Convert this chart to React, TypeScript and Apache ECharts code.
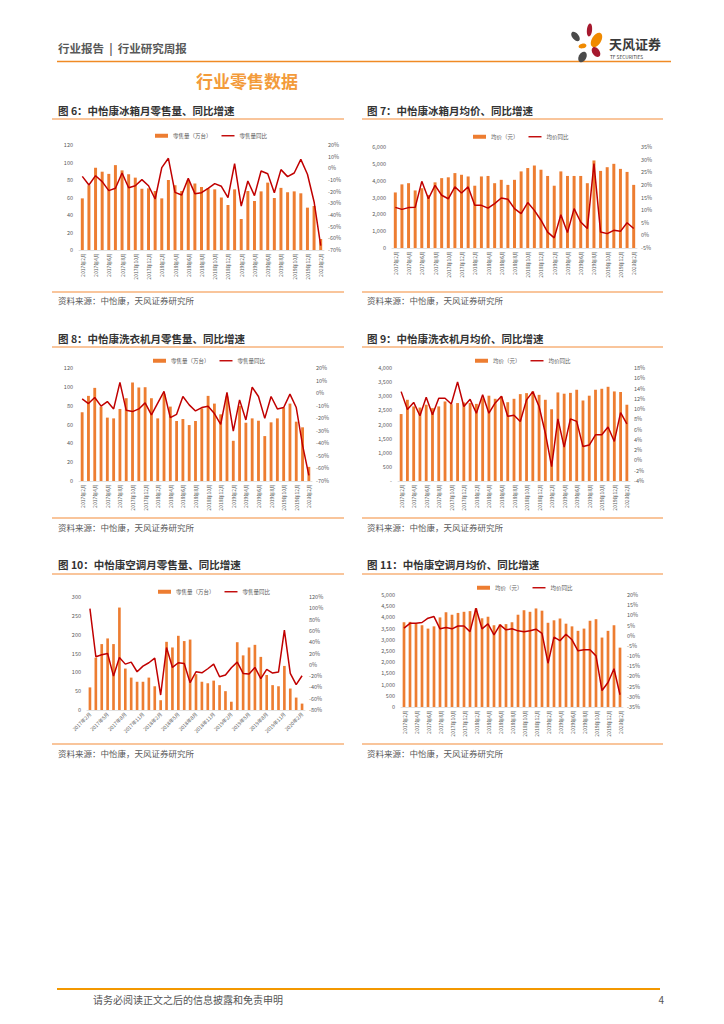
import React, { useEffect, useRef } from "react";
import * as echarts from "echarts";

const months = [
  "2017年2月", "2017年3月", "2017年4月", "2017年5月", "2017年6月", "2017年7月", "2017年8月", "2017年9月", "2017年10月", "2017年11月", "2017年12月",
  "2018年1月", "2018年2月", "2018年3月", "2018年4月", "2018年5月", "2018年6月", "2018年7月", "2018年8月", "2018年9月", "2018年10月", "2018年11月", "2018年12月",
  "2019年1月", "2019年2月", "2019年3月", "2019年4月", "2019年5月", "2019年6月", "2019年7月", "2019年8月", "2019年9月", "2019年10月", "2019年11月", "2019年12月",
  "2020年1月", "2020年2月",
];

const fridgeVol = [59, 74, 94, 89.5, 87, 97, 91, 86.5, 82.7, 70, 70.5, 67.4, 59, 80, 74, 67.4, 80, 76, 72, 70.5, 69.3, 60, 51.4, 69.3, 35.4, 67.4, 56, 67, 77, 59.4, 71, 66, 67, 64.8, 48.4, 50.3, 12.6];
const fridgeVolYoy = [-6.9, -14.3, -6.3, -11.4, -19.1, -17.1, -4, -16.6, -14.9, -9.7, -14.9, -26.3, 0.6, 8.6, -20.6, -22.9, -8.6, -21.7, -20.9, -17.1, -13.1, -15.4, -25.1, 4, -32.3, -10.9, -23.4, -2.3, -4.6, -20.9, -1.1, -7.1, -4, 7.7, -5.1, -28.6, -66.3];

const fridgePrice = [3300, 3780, 3850, 3420, 3550, 3150, 3900, 4150, 4200, 4450, 4350, 4250, 3700, 4250, 4280, 3850, 4050, 3750, 4050, 4550, 4750, 4900, 4650, 4280, 3700, 4550, 4280, 4280, 4280, 3850, 5200, 4580, 4800, 5000, 4700, 4520, 3750];
const fridgePriceYoy = [11.1, 10.3, 11.0, 11.1, 21.4, 14.5, 19.8, 15.9, 14.5, 19.2, 16.8, 19.2, 11.9, 11.9, 10.8, 12.6, 14.8, 14.3, 10.6, 8.6, 13.0, 9.9, 6.0, 1.3, -1.0, 8.2, 1.1, 10.6, 5.3, 2.7, 28.4, 1.3, 0.7, 2.0, 1.6, 5.0, 2.7];

const washVol = [73, 90.4, 98.9, 79, 67.3, 66.5, 76.5, 87.9, 104.6, 99.3, 99.6, 87.9, 66.5, 92.2, 79, 63.7, 65.8, 59.4, 63.7, 77.2, 90.4, 82.2, 70.8, 89.7, 42.7, 79.7, 61.9, 66.5, 64, 47.7, 62.3, 66.5, 78, 82.2, 63, 57, 15];
const washVolYoy = [-4.6, -8.3, -3.5, -10.4, -6.7, -12.6, 8.5, -13.7, -14.7, -12.6, -7.8, -17.4, -8.0, 1.3, -19.5, -16.9, -2.7, -9.4, -14.2, -11.5, -10.4, -16.3, -24.9, 0.5, -30.2, -5.4, -21.4, 4.8, -2.7, -20.1, -2.7, -12.6, -11.5, -0.8, -11.5, -41.4, -65.5];

const washPrice = [2370, 2875, 2640, 2600, 2700, 2580, 2640, 2815, 2720, 2760, 2780, 2760, 2730, 2930, 3020, 2910, 2990, 2790, 2910, 3075, 3110, 3170, 3050, 2875, 2540, 3135, 3090, 3120, 3230, 2850, 3020, 3230, 3265, 3335, 3170, 3150, 2700];
const washPriceYoy = [13.4, 9.9, 11.3, 8.7, 12.3, 8.9, 12.1, 12.1, 11.0, 15.3, 10.5, 11.9, 9.2, 12.8, 9.2, 11.2, 12.5, 8.6, 8.8, 7.6, 11.8, 13.4, 10.5, 5.3, -1.2, 8.1, 2.6, 8.1, 7.6, 2.7, 3.0, 5.0, 5.0, 6.5, 3.7, 9.3, 7.1];

const acVol = [60, 139, 175, 190, 175, 272, 110, 86, 75, 75, 86, 63, 26, 181, 166, 197, 183, 187, 95, 75, 71, 78, 66, 50, 22, 180, 145, 166, 173, 141, 93, 66, 63, 117, 57, 33, 17];
const acVolYoy = [99.4, 14.2, 17.7, 20, -20, 13, 1.2, 4.8, -12.3, -2.3, 3.6, 11.8, -53.5, 30.6, -4.7, 3.6, 2.4, -31.7, -12.3, -14.1, -7, 1.2, -21.1, -18.2, -5.2, 4.8, -15.2, -16.4, -4.7, -24.6, -8.2, -14.7, -12.9, 61.2, -15.2, -35.2, -19.4];

const acPrice = [3784, 3800, 3720, 3650, 3500, 3600, 4000, 4230, 4120, 4200, 4250, 4280, 4400, 3960, 4030, 3650, 3690, 3700, 3780, 4120, 4320, 4250, 4400, 4300, 3760, 3870, 3950, 3720, 3600, 3400, 3500, 3850, 3920, 3100, 3400, 3650, 2650];
const acPriceYoy = [3.7, 6.1, 6.1, 6.5, 8.6, 9.4, 3.4, 4.0, 3.4, 4.8, 4.8, 2.0, 13.5, 3.4, 5.8, 0.4, 5.3, 2.9, 3.4, 2.4, 2.0, 2.4, 3.2, 1.2, -13.5, -0.7, -2.4, 0.7, -2.0, -7.4, -6.9, -6.9, -9.9, -26.9, -23.0, -16.2, -29.0];

const volName = "零售量（万台）";
const volYoyName = "零售量同比";
const priceName = "均价（元）";
const priceYoyName = "均价同比";

const panelTitles = [
  "图 6：中怡康冰箱月零售量、同比增速",
  "图 7：中怡康冰箱月均价、同比增速",
  "图 8：中怡康洗衣机月零售量、同比增速",
  "图 9：中怡康洗衣机月均价、同比增速",
  "图 10：中怡康空调月零售量、同比增速",
  "图 11：中怡康空调月均价、同比增速",
];
const sourceText = "资料来源：中怡康，天风证券研究所";

const BAR = "#ED7D31";
const LINE = "#C00000";
const AXIS_TXT = "#595959";
const FONT = "'Noto Sans CJK SC', 'Noto Sans', sans-serif";

const fmtThousand = (v: number) => v.toLocaleString("en-US");

const panels = [
  {
    grid: { left: 79, top: 145, width: 245, height: 105 },
    legend: { left: 150, top: 128 },
    names: [volName, volYoyName], bars: fridgeVol, line: fridgeVolYoy,
    lAxis: { min: 0, max: 120, interval: 20, fmt: (v: number) => String(v) },
    rAxis: { min: -70, max: 20, interval: 10 },
    rotate: 90, labelInterval: 1,
  },
  {
    grid: { left: 392, top: 147, width: 245, height: 101 },
    legend: { left: 468, top: 129 },
    names: [priceName, priceYoyName], bars: fridgePrice, line: fridgePriceYoy,
    lAxis: { min: 0, max: 6000, interval: 1000, fmt: fmtThousand },
    rAxis: { min: -5, max: 35, interval: 5 },
    rotate: 90, labelInterval: 1,
  },
  {
    grid: { left: 79, top: 368, width: 233, height: 113 },
    legend: { left: 148, top: 353 },
    names: [volName, volYoyName], bars: washVol, line: washVolYoy,
    lAxis: { min: 0, max: 120, interval: 20, fmt: (v: number) => String(v) },
    rAxis: { min: -70, max: 20, interval: 10 },
    rotate: 90, labelInterval: 1,
  },
  {
    grid: { left: 398, top: 368, width: 232, height: 113 },
    legend: { left: 470, top: 353 },
    names: [priceName, priceYoyName], bars: washPrice, line: washPriceYoy,
    lAxis: { min: 0, max: 4000, interval: 500, fmt: (v: number) => (v === 0 ? "-" : fmtThousand(v)) },
    rAxis: { min: -4, max: 18, interval: 2 },
    rotate: 90, labelInterval: 1,
  },
  {
    grid: { left: 87, top: 597, width: 218, height: 113 },
    legend: { left: 153, top: 584 },
    names: [volName, volYoyName], bars: acVol, line: acVolYoy,
    lAxis: { min: 0, max: 300, interval: 50, fmt: (v: number) => String(v) },
    rAxis: { min: -80, max: 120, interval: 20 },
    rotate: 45, labelInterval: 2,
  },
  {
    grid: { left: 401, top: 595, width: 222, height: 112 },
    legend: { left: 472, top: 580 },
    names: [priceName, priceYoyName], bars: acPrice, line: acPriceYoy,
    lAxis: { min: 0, max: 5000, interval: 500, fmt: fmtThousand },
    rAxis: { min: -35, max: 20, interval: 5 },
    rotate: 90, labelInterval: 1,
  },
];

// panel frame positions: [titleX, titleY, topLineY, bottomLineY, sourceY, lineX1, lineX2]
const frames = [
  [58, 110, 119, 292, 300, 52, 344],
  [367, 110, 119, 292, 300, 362, 663],
  [58, 338, 347, 518, 527, 52, 344],
  [367, 338, 347, 518, 527, 362, 663],
  [58, 564, 574, 744, 753, 52, 344],
  [367, 564, 574, 744, 753, 362, 663],
];

function buildOption() {
  const grid: any[] = [];
  const xAxis: any[] = [];
  const yAxis: any[] = [];
  const series: any[] = [];
  const legend: any[] = [];

  panels.forEach((p, i) => {
    grid.push({ ...p.grid, containLabel: false });
    xAxis.push({
      type: "category",
      gridIndex: i,
      data: months,
      boundaryGap: true,
      axisLine: { show: true, lineStyle: { color: "#D9D9D9", width: 0.8 } },
      axisTick: { show: false },
      axisLabel: {
        interval: p.labelInterval,
        rotate: p.rotate,
        fontSize: 5,
        color: AXIS_TXT,
        margin: 3,
        fontFamily: FONT,
      },
    });
    yAxis.push({
      type: "value",
      gridIndex: i,
      position: "left",
      min: p.lAxis.min,
      max: p.lAxis.max,
      interval: p.lAxis.interval,
      splitLine: { show: false },
      axisLine: { show: false },
      axisTick: { show: false },
      axisLabel: { fontSize: 5.5, color: AXIS_TXT, margin: 6, formatter: p.lAxis.fmt, fontFamily: FONT },
    });
    yAxis.push({
      type: "value",
      gridIndex: i,
      position: "right",
      min: p.rAxis.min,
      max: p.rAxis.max,
      interval: p.rAxis.interval,
      splitLine: { show: false },
      axisLine: { show: false },
      axisTick: { show: false },
      axisLabel: { fontSize: 5.5, color: AXIS_TXT, margin: 4, formatter: (v: number) => `${v}%`, fontFamily: FONT },
    });
    series.push({
      type: "bar",
      name: p.names[0],
      xAxisIndex: i,
      yAxisIndex: i * 2,
      data: p.bars,
      barWidth: "45%",
      itemStyle: { color: BAR },
    });
    series.push({
      type: "line",
      name: p.names[1],
      xAxisIndex: i,
      yAxisIndex: i * 2 + 1,
      data: p.line,
      symbol: "none",
      showSymbol: false,
      lineStyle: { color: LINE, width: 1.5 },
      itemStyle: { color: LINE },
    });
    legend.push({
      left: p.legend.left,
      top: p.legend.top,
      data: [
        { name: p.names[0], icon: "rect" },
        { name: p.names[1], icon: "path://M0,0H28V3H0Z" },
      ],
      itemWidth: 13,
      itemHeight: 4,
      itemGap: 10,
      selectedMode: false,
      textStyle: { fontSize: 5.5, color: AXIS_TXT, fontFamily: FONT },
    });
  });

  const graphic: any[] = [];
  // header
  graphic.push({
    type: "text", x: 58, y: 48,
    style: { text: "行业报告  |  行业研究周报", fontSize: 11.5, fontWeight: "bold", fill: "#595959", fontFamily: FONT, textVerticalAlign: "middle" },
  });
  graphic.push({ type: "line", shape: { x1: 57, y1: 61.5, x2: 671, y2: 61.5 }, style: { stroke: "#F08A24", lineWidth: 1.5 } });
  // logo petals
  const petals = [
    { x: 589.5, y: 30, rx: 2.6, ry: 6.5, rot: -0.1, c: "#A6192E" },
    { x: 575.5, y: 36.5, rx: 3.2, ry: 5.5, rot: 0.7, c: "#4A4A4A" },
    { x: 596.5, y: 40, rx: 4.6, ry: 8, rot: -0.55, c: "#F08A00" },
    { x: 582.5, y: 46, rx: 4, ry: 2.4, rot: 0.2, c: "#F08A00" },
    { x: 596, y: 52, rx: 3.6, ry: 5.6, rot: 0.6, c: "#A6192E" },
    { x: 582.5, y: 57, rx: 3.8, ry: 5.6, rot: -0.5, c: "#4A4A4A" },
  ];
  petals.forEach((pt) => {
    graphic.push({
      type: "ellipse", x: pt.x, y: pt.y, rotation: pt.rot,
      shape: { cx: 0, cy: 0, rx: pt.rx, ry: pt.ry },
      style: { fill: pt.c },
    });
  });
  graphic.push({
    type: "text", x: 609, y: 43.5,
    style: { text: "天风证券", fontSize: 13, fontWeight: "bold", fill: "#3A3A3A", fontFamily: FONT, textVerticalAlign: "middle", lineHeight: 13 },
  });
  graphic.push({
    type: "text", x: 610, y: 56.5,
    style: { text: "TF SECURITIES", fontSize: 4.8, fill: "#3A3A3A", fontFamily: FONT, textVerticalAlign: "middle", lineHeight: 5 },
  });
  // section title
  graphic.push({
    type: "text", x: 247, y: 80,
    style: { text: "行业零售数据", fontSize: 17, fontWeight: "bold", fill: "#F39B3A", fontFamily: FONT, textAlign: "center", textVerticalAlign: "middle" },
  });
  // panel frames
  frames.forEach((f, i) => {
    const [tx, ty, l1, l2, sy, x1, x2] = f;
    graphic.push({
      type: "text", x: tx, y: ty,
      style: { text: panelTitles[i], fontSize: 10.5, fontWeight: "bold", fill: "#333333", fontFamily: FONT, textVerticalAlign: "middle" },
    });
    graphic.push({ type: "line", shape: { x1, y1: l1, x2, y2: l1 }, style: { stroke: "#F7B27A", lineWidth: 1.5 } });
    graphic.push({ type: "line", shape: { x1, y1: l2, x2, y2: l2 }, style: { stroke: "#F7B27A", lineWidth: 1.5 } });
    graphic.push({
      type: "text", x: tx, y: sy,
      style: { text: sourceText, fontSize: 8.5, fill: "#595959", fontFamily: FONT, textVerticalAlign: "middle" },
    });
  });
  // footer
  graphic.push({ type: "line", shape: { x1: 57, y1: 989, x2: 660, y2: 989 }, style: { stroke: "#F39800", lineWidth: 2 } });
  graphic.push({
    type: "text", x: 93, y: 999.5,
    style: { text: "请务必阅读正文之后的信息披露和免责申明", fontSize: 10, fill: "#555555", fontFamily: FONT, textVerticalAlign: "middle" },
  });
  graphic.push({
    type: "text", x: 664, y: 999.5,
    style: { text: "4", fontSize: 10, fill: "#555555", fontFamily: FONT, textAlign: "right", textVerticalAlign: "middle" },
  });

  return {
    animation: false,
    backgroundColor: "#FFFFFF",
    textStyle: { fontFamily: FONT },
    grid,
    xAxis,
    yAxis,
    series,
    legend,
    graphic,
  };
}

export default function App() {
  const ref = useRef<HTMLDivElement>(null);
  useEffect(() => {
    if (!ref.current) return;
    const chart = echarts.init(ref.current, undefined, { renderer: "svg" });
    chart.setOption(buildOption() as any);
    return () => chart.dispose();
  }, []);
  return (
    <div
      ref={ref}
      style={{ position: "absolute", left: 0, top: 0, width: 724, height: 1024, background: "#fff" }}
    />
  );
}
